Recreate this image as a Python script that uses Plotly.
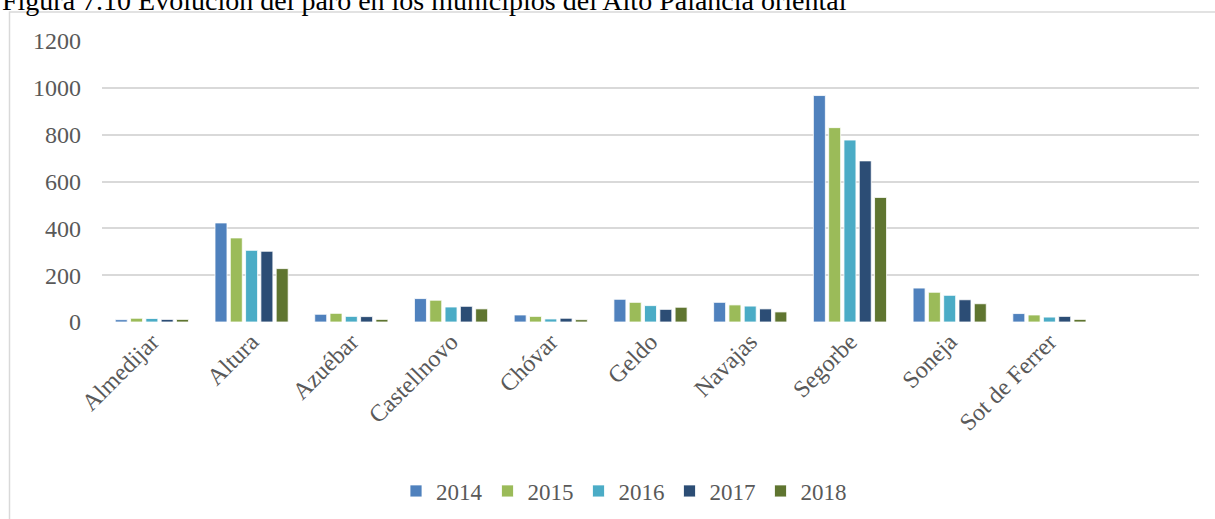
import plotly.graph_objects as go

title_text = "Figura 7.10 Evolución del paro en los municipios del Alto Palancia oriental"
municipios = ["Almedijar", "Altura", "Azuébar", "Castellnovo", "Chóvar", "Geldo",
              "Navajas", "Segorbe", "Soneja", "Sot de Ferrer"]
years = ["2014", "2015", "2016", "2017", "2018"]
paro_2014 = [10, 423, 33, 100, 30, 97, 84, 967, 145, 36]
paro_2015 = [16, 359, 37, 93, 24, 84, 73, 830, 127, 30]
paro_2016 = [15, 306, 24, 64, 13, 70, 68, 777, 114, 21]
paro_2017 = [11, 302, 23, 67, 16, 54, 56, 688, 95, 24]
paro_2018 = [11, 228, 11, 56, 10, 63, 43, 532, 78, 11]
y_ticks = [0, 200, 400, 600, 800, 1000, 1200]

series = [paro_2014, paro_2015, paro_2016, paro_2017, paro_2018]
colors = ["#4F81BD", "#9BBB59", "#4BACC6", "#2C4D75", "#5F7530"]

W, H = 1215, 519
L, R, T, B = 102, 16, 41, 197
pw, ph = W - L - R, H - T - B

def px_x(x):
    return (x - L) / pw

def px_y(y):
    return (H - B - y) / ph

fig = go.Figure()
for name, vals, col in zip(years, series, colors):
    fig.add_trace(go.Bar(
        x=municipios, y=vals, name=name,
        marker=dict(color=col, line=dict(color="white", width=0.8)),
    ))

font_main = "Liberation Serif, Times New Roman, serif"
fig.update_layout(
    width=W, height=H,
    margin=dict(l=L, r=R, t=T, b=B, autoexpand=False),
    paper_bgcolor="white", plot_bgcolor="white",
    barmode="group", bargap=0.233, bargroupgap=0.216,
    font=dict(family=font_main, color="#595959", size=24),
    xaxis=dict(
        type="category", range=[-0.5, 10.5], tickangle=-45,
        showgrid=False, zeroline=False, showline=False, ticks="",
        tickfont=dict(size=24, color="#595959"),
    ),
    yaxis=dict(
        range=[0, 1200], tickvals=y_ticks, ticktext=[str(v) for v in y_ticks],
        showgrid=True, gridcolor="#D9D9D9", gridwidth=1.5,
        zeroline=False, showline=False, ticks="",
        ticklabelstandoff=20,
        tickfont=dict(size=24, color="#595959"),
    ),
    legend=dict(
        orientation="h", x=px_x(624), xanchor="center",
        y=px_y(491), yanchor="middle",
        font=dict(size=23, color="#595959"),
        bgcolor="rgba(0,0,0,0)",
    ),
    showlegend=True,
    shapes=[dict(
        type="rect", xref="paper", yref="paper",
        x0=px_x(9.5), x1=px_x(1300), y0=px_y(12), y1=px_y(700),
        line=dict(color="#D9D9D9", width=1.5), fillcolor="rgba(0,0,0,0)",
        layer="below",
    )],
    annotations=[dict(
        text=title_text, xref="paper", yref="paper",
        x=px_x(0), xanchor="left", y=px_y(18.5), yanchor="bottom",
        showarrow=False,
        font=dict(family=font_main, size=28, color="black"),
    )],
)

fig.write_html(
    "out.html",
    config={"displayModeBar": False},
    post_script="document.body.style.margin='0';document.body.style.overflow='hidden';",
)
